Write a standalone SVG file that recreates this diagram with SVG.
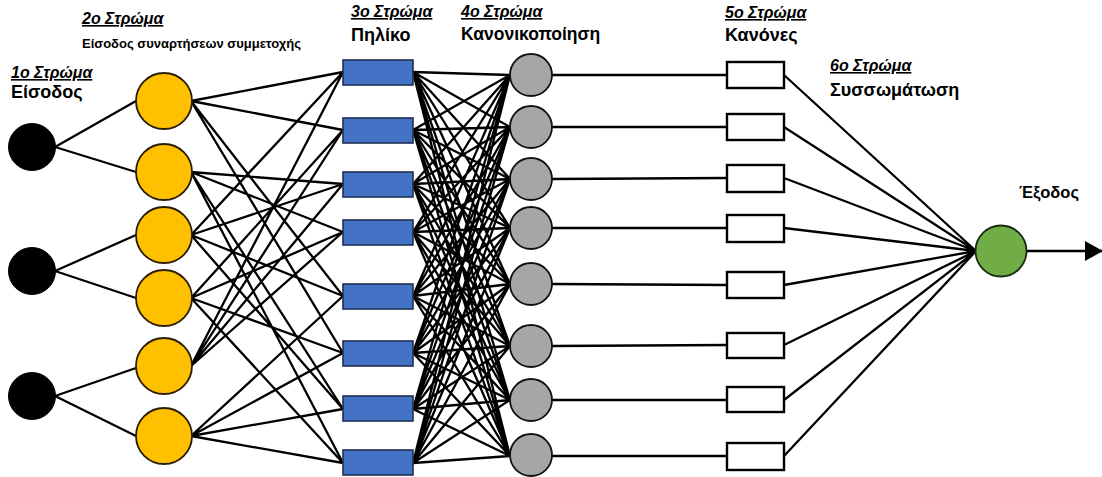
<svg xmlns="http://www.w3.org/2000/svg" width="1102" height="477" viewBox="0 0 1102 477">
<style>
.ln{stroke:#000;stroke-width:2.3;fill:none}
.in{fill:#000;stroke:#000;stroke-width:1}
.mf{fill:#FFC000;stroke:#2b1d00;stroke-width:1.8}
.pr{fill:#4472C4;stroke:#1f2f55;stroke-width:1.6}
.nm{fill:#A6A6A6;stroke:#111;stroke-width:1.8}
.rl{fill:#fff;stroke:#000;stroke-width:2.4}
.out{fill:#70AD47;stroke:#1a2a10;stroke-width:1.8}
.lay{font-family:"Liberation Sans",Arial,sans-serif;font-weight:bold;font-style:italic;font-size:16px;text-decoration:underline;fill:#000}
.nmt{font-family:"Liberation Sans",Arial,sans-serif;font-weight:bold;font-size:18px;fill:#000}
.sm{font-family:"Liberation Sans",Arial,sans-serif;font-weight:bold;font-size:13px;fill:#000}
</style>
<defs>
<marker id="ah" markerWidth="18" markerHeight="20" refX="17" refY="10" orient="auto" markerUnits="userSpaceOnUse" viewBox="0 0 18 20">
<path d="M0,0 L18,10 L0,20 Z" fill="#000"/>
</marker>
</defs>
<g id="connectors">
<path class="ln" d="M55,147 L136,101 M55,147 L136,172 M55,271 L136,235 M55,271 L136,298 M55,396 L136,368 M55,396 L136,436"/>
<path class="ln" d="M191,101 L343,72 M191,101 L343,130 M191,101 L343,296 M191,101 L343,353
M191,172 L343,184 M191,172 L343,232 M191,172 L343,409 M191,172 L343,463
M191,235 L343,72 M191,235 L343,184 M191,235 L343,296 M191,235 L343,409
M191,298 L343,130 M191,298 L343,232 M191,298 L343,353 M191,298 L343,463
M191,366 L343,72 M191,366 L343,130 M191,366 L343,184 M191,366 L343,232
M191,436 L343,296 M191,436 L343,353 M191,436 L343,409 M191,436 L343,463"/>
<path class="ln" d="M413,72 L510,75 M413,72 L510,127 M413,72 L510,179 M413,72 L510,228 M413,72 L510,284 M413,72 L510,346 M413,72 L510,400 M413,72 L510,456
M413,130 L510,75 M413,130 L510,127 M413,130 L510,179 M413,130 L510,228 M413,130 L510,284 M413,130 L510,346 M413,130 L510,400 M413,130 L510,456
M413,184 L510,75 M413,184 L510,127 M413,184 L510,179 M413,184 L510,228 M413,184 L510,284 M413,184 L510,346 M413,184 L510,400 M413,184 L510,456
M413,232 L510,75 M413,232 L510,127 M413,232 L510,179 M413,232 L510,228 M413,232 L510,284 M413,232 L510,346 M413,232 L510,400 M413,232 L510,456
M413,296 L510,75 M413,296 L510,127 M413,296 L510,179 M413,296 L510,228 M413,296 L510,284 M413,296 L510,346 M413,296 L510,400 M413,296 L510,456
M413,353 L510,75 M413,353 L510,127 M413,353 L510,179 M413,353 L510,228 M413,353 L510,284 M413,353 L510,346 M413,353 L510,400 M413,353 L510,456
M413,409 L510,75 M413,409 L510,127 M413,409 L510,179 M413,409 L510,228 M413,409 L510,284 M413,409 L510,346 M413,409 L510,400 M413,409 L510,456
M413,463 L510,75 M413,463 L510,127 M413,463 L510,179 M413,463 L510,228 M413,463 L510,284 M413,463 L510,346 M413,463 L510,400 M413,463 L510,456"/>
<path class="ln" d="M552,75 L727,75 M552,127 L727,127 M552,179 L727,178 M552,228 L727,228 M552,284 L727,285 M552,346 L727,345 M552,400 L727,400 M552,456 L727,456"/>
<path class="ln" d="M784,75 L976,251 M784,127 L976,251 M784,178 L976,251 M784,228 L976,251 M784,285 L976,251 M784,345 L976,251 M784,400 L976,251 M784,456 L976,251"/>
<path class="ln" d="M1027,251 L1102,251" marker-end="url(#ah)"/>
</g>
<g id="layer1">
<circle id="in1" class="in" cx="32" cy="147" r="23.5"/>
<circle id="in2" class="in" cx="32" cy="271" r="23.5"/>
<circle id="in3" class="in" cx="32" cy="396" r="23.5"/>
</g>
<g id="layer2">
<circle id="mf1" class="mf" cx="164" cy="101" r="28"/>
<circle id="mf2" class="mf" cx="164" cy="172" r="28"/>
<circle id="mf3" class="mf" cx="164" cy="235" r="28"/>
<circle id="mf4" class="mf" cx="164" cy="298" r="28"/>
<circle id="mf5" class="mf" cx="164" cy="366" r="28"/>
<circle id="mf6" class="mf" cx="164" cy="436" r="28"/>
</g>
<g id="layer3">
<rect id="p1" class="pr" x="343" y="60" width="70" height="25"/>
<rect id="p2" class="pr" x="343" y="118" width="70" height="25"/>
<rect id="p3" class="pr" x="343" y="172" width="70" height="25"/>
<rect id="p4" class="pr" x="343" y="220" width="70" height="25"/>
<rect id="p5" class="pr" x="343" y="284" width="70" height="25"/>
<rect id="p6" class="pr" x="343" y="341" width="70" height="25"/>
<rect id="p7" class="pr" x="343" y="396" width="70" height="25"/>
<rect id="p8" class="pr" x="343" y="450" width="70" height="25"/>
</g>
<g id="layer4">
<circle id="n1" class="nm" cx="531" cy="75" r="21"/>
<circle id="n2" class="nm" cx="531" cy="127" r="21"/>
<circle id="n3" class="nm" cx="531" cy="179" r="21"/>
<circle id="n4" class="nm" cx="531" cy="228" r="21"/>
<circle id="n5" class="nm" cx="531" cy="284" r="21"/>
<circle id="n6" class="nm" cx="531" cy="346" r="21"/>
<circle id="n7" class="nm" cx="531" cy="400" r="21"/>
<circle id="n8" class="nm" cx="531" cy="455" r="21"/>
</g>
<g id="layer5">
<rect id="r1" class="rl" x="727" y="62" width="57" height="26"/>
<rect id="r2" class="rl" x="727" y="114" width="57" height="26"/>
<rect id="r3" class="rl" x="727" y="165" width="57" height="27"/>
<rect id="r4" class="rl" x="727" y="215" width="57" height="27"/>
<rect id="r5" class="rl" x="727" y="272" width="57" height="26"/>
<rect id="r6" class="rl" x="727" y="333" width="57" height="25"/>
<rect id="r7" class="rl" x="727" y="387" width="57" height="25"/>
<rect id="r8" class="rl" x="727" y="443" width="57" height="27"/>
</g>
<g id="layer6">
<circle id="out" class="out" cx="1001" cy="251" r="25.5"/>
</g>
<g id="labels">
<text class="lay" x="82" y="24">2o Στρώμα</text>
<text class="sm" x="82" y="48">Είσοδος συναρτήσεων συμμετοχής</text>
<text class="lay" x="11" y="78">1o Στρώμα</text>
<text class="nmt" x="11" y="98">Είσοδος</text>
<text class="lay" x="351" y="17">3o Στρώμα</text>
<text class="nmt" x="351" y="41">Πηλίκο</text>
<text class="lay" x="461" y="17">4o Στρώμα</text>
<text class="nmt" x="461" y="40" style="font-size:17.5px">Κανονικοποίηση</text>
<text class="lay" x="725" y="18">5o Στρώμα</text>
<text class="nmt" x="725" y="41">Κανόνες</text>
<text class="lay" x="830" y="71">6o Στρώμα</text>
<text class="nmt" x="830" y="96">Συσσωμάτωση</text>
<text class="nmt" x="1019" y="198" style="font-size:16.5px">Έξοδος</text>
</g>
</svg>
